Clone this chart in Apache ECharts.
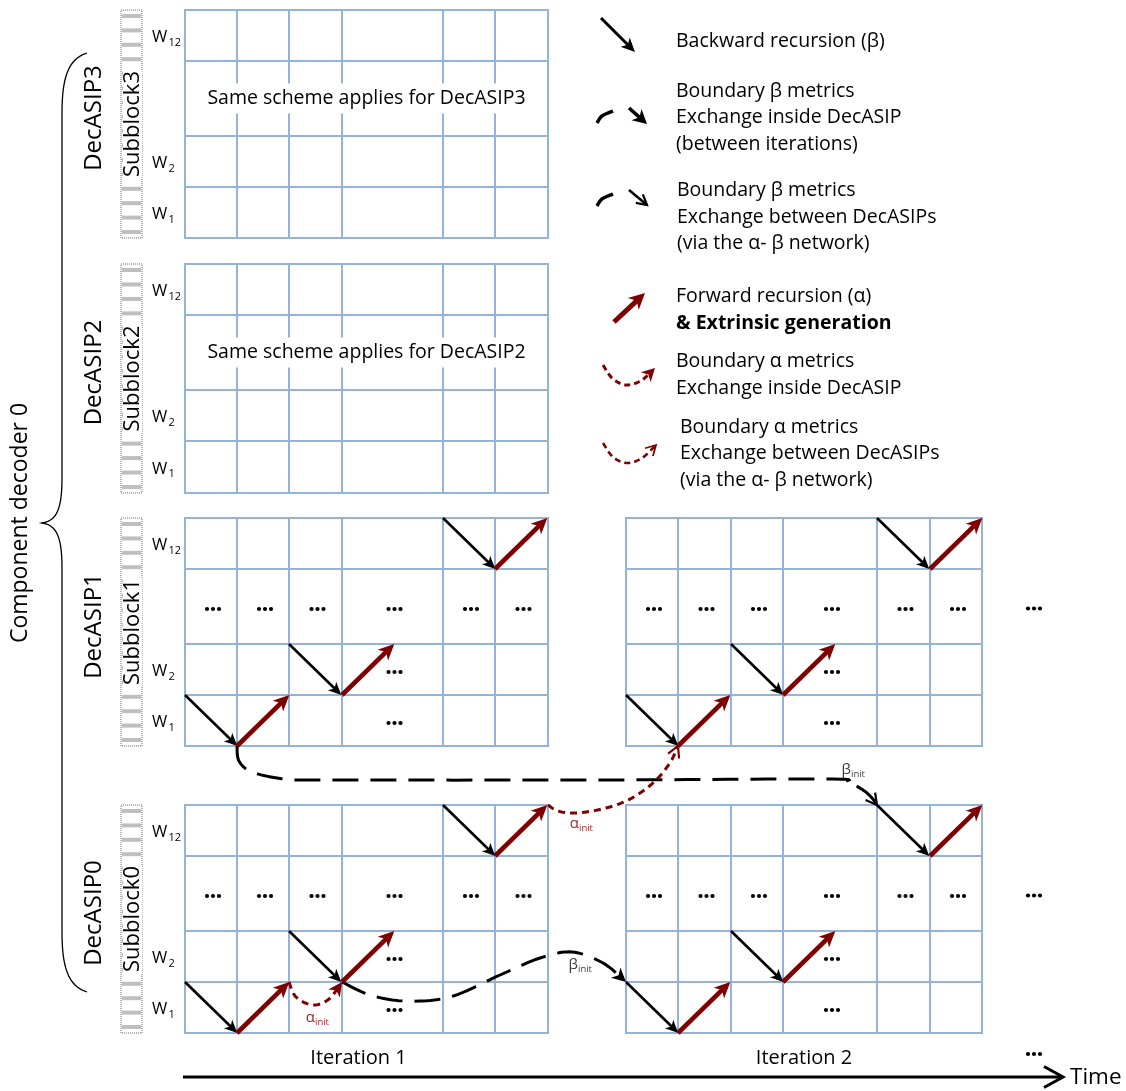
<!DOCTYPE html>
<html><head><meta charset="utf-8">
<script src="https://cdn.jsdelivr.net/npm/echarts@6/dist/echarts.min.js"></script>
<style>html,body{margin:0;padding:0;background:#fff}#chart{width:1126px;height:1091px}</style>
</head><body><div id="chart"></div>
<script>
// ================= DATA =================
const decasipNames = ['DecASIP3', 'DecASIP2', 'DecASIP1', 'DecASIP0'];
const subblockNames = ['Subblock3', 'Subblock2', 'Subblock1', 'Subblock0'];
const windowLabels = [['W', '12'], null, ['W', '2'], ['W', '1']];
const iterationNames = ['Iteration 1', 'Iteration 2'];
const schemeNotes = ['Same scheme applies for DecASIP3', 'Same scheme applies for DecASIP2'];
const decoderName = 'Component decoder 0';
const timeName = 'Time';
// panels: [block index, iteration index]
const panels = [[0, 0], [1, 0], [2, 0], [3, 0], [2, 1], [3, 1]];
const detailedPanels = [[2, 0], [3, 0], [2, 1], [3, 1]];
// recursion steps: start node [column edge, row edge]; each step spans one window cell
const backwardSteps = [[0, 3], [2, 2], [4, 0]];   // one cell right, one row down
const forwardSteps = [[1, 4], [3, 3], [5, 1]];    // one cell right, one row up
// cells holding an ellipsis: [column, row]
const ellipsisCells = [[0, 1], [1, 1], [2, 1], [3, 1], [4, 1], [5, 1], [3, 2], [3, 3]];
// continuation ellipses beyond iteration 2: (block, row)
const continuationRows = [[2, 1], [3, 1]];
// boundary metric exchanges: from/to = [block, iteration, column edge, row edge]
const exchangeNames = ['alpha-inside', 'beta-inside', 'beta-between', 'alpha-between'];
const exchangeFrom = [[3, 0, 2, 3], [3, 0, 3, 3], [2, 0, 1, 4], [3, 0, 6, 0]];
const exchangeTo = [[3, 0, 3, 3], [3, 1, 0, 3], [3, 1, 4, 0], [2, 1, 1, 4]];
const exchangeSymbols = ['α', 'β', 'β', 'α'];
const exchangeSubscripts = ['init', 'init', 'init', 'init'];
const legendKinds = ['backward', 'beta-inside', 'beta-between', 'forward', 'alpha-inside', 'alpha-between'];
const legendTexts = [
  ['Backward recursion (β)'],
  ['Boundary β metrics', 'Exchange inside DecASIP', '(between iterations)'],
  ['Boundary β metrics', 'Exchange between DecASIPs', '(via the α- β network)'],
  ['Forward recursion (α)', '& Extrinsic generation'],
  ['Boundary α metrics', 'Exchange inside DecASIP'],
  ['Boundary α metrics', 'Exchange between DecASIPs', '(via the α- β network)']
];
const legendBold = [[false], [false, false, false], [false, false, false], [false, true], [false, false], [false, false, false]];

// ================= LAYOUT / STYLE =================
const LAYOUT = {
  W: 1126, H: 1091,
  colEdges: [[185, 237, 289, 342, 443, 495, 548], [626, 678, 731, 783, 877, 930, 982]],
  rowEdges: [[10, 61, 136, 187, 238], [264, 315, 390, 441, 493], [518, 569, 644, 695, 746], [805, 856, 931, 982, 1033]],
  cellW: 52.3,
  barX: [121, 142],
  decasipX: 94,
  wLabelX: 152,
  decoderX: 20,
  brace: { tipX: 42, armX: 62, endX: 87, top: 53, mid: 523, bottom: 992 },
  moreX: 1034,
  timeY: 1077, timeX0: 183, timeX1: 1063, timeDotsY: 1054,
  iterLabelY: 1058,
  legendTextX: [676, 676, 677, 676, 676, 680],
  legendTextY: [[41], [91, 117, 144], [190, 217, 243], [296, 323], [361, 388], [427, 453, 480]],
  routes: {
    'alpha-inside': [[296, 997], [313, 1005], [329, 999]],
    'beta-inside': [[370, 995], [405, 1001], [450, 997], [500, 975], [540, 958], [572, 952], [603, 963]],
    'beta-between': [[239, 761], [252, 772], [285, 779], [330, 780], [600, 780], [825, 779], [847, 782], [863, 790], [872, 798]],
    'alpha-between': [[558, 811], [576, 813], [602, 809], [624, 802], [643, 791], [659, 777], [671, 761]]
  },
  labelPos: { 'alpha-inside': [314, 1019], 'beta-inside': [577, 966], 'beta-between': [850, 771], 'alpha-between': [578, 825] },
  legendIcons: {
    'backward': { arrow: [[601, 18], [635, 52]] },
    'beta-inside': { arc: [[597, 123], [602, 116], [613, 111]], arrow: [[629, 108], [647, 124]] },
    'beta-between': { arc: [[597, 206], [602, 199], [613, 194]], arrow: [[629, 190], [647, 205]] },
    'forward': { arrow: [[614, 322], [645, 293]] },
    'alpha-inside': { curve: [[603, 365], [613, 379], [627, 385], [642, 380], [655, 368]] },
    'alpha-between': { curve: [[603, 443], [613, 457], [627, 463], [642, 458], [656, 445]] }
  }
};
const STYLE = {
  grid: '#95B3D7', gridW: 2,
  red: '#7F0000', redLabel: '#A3282B', black: '#000', betaLabel: '#3A3A3A',
  font: '"Open Sans", Lato, sans-serif'
};

// ================= HELPERS =================
function P(api, x, y) { return api.coord([x, y]); }
function seg(a, b, stroke, w, dash) {
  return { type: 'line', shape: { x1: a[0], y1: a[1], x2: b[0], y2: b[1] }, style: { stroke: stroke, lineWidth: w, lineDash: dash || null, lineCap: 'butt' } };
}
function txt(x, y, text, o) {
  o = o || {};
  const st = {
    text: text, fill: o.fill || '#000', fontSize: o.fontSize || 18, fontFamily: o.fontFamily || STYLE.font,
    fontWeight: o.fontWeight || 'normal', align: o.align || 'left', verticalAlign: o.verticalAlign || 'middle',
    textAlign: o.align || 'left', textVerticalAlign: o.verticalAlign || 'middle',
    backgroundColor: o.backgroundColor || null, padding: o.padding || 0
  };
  if (o.lineHeight) st.lineHeight = o.lineHeight;
  return { type: 'text', x: x, y: y, rotation: o.rotation || 0, style: st };
}
function head(tip, from, color, len, half, filled, w) {
  const dx = tip[0] - from[0], dy = tip[1] - from[1], L = Math.hypot(dx, dy) || 1;
  const ux = dx / L, uy = dy / L, nx = -uy, ny = ux;
  const bl = [tip[0] - ux * len + nx * half, tip[1] - uy * len + ny * half];
  const br = [tip[0] - ux * len - nx * half, tip[1] - uy * len - ny * half];
  if (filled) {
    const notch = [tip[0] - ux * len * 0.72, tip[1] - uy * len * 0.72];
    return { type: 'polygon', shape: { points: [tip, bl, notch, br] }, style: { fill: color } };
  }
  return { type: 'polyline', shape: { points: [bl, tip, br] }, style: { stroke: color, lineWidth: w, fill: null, lineJoin: 'miter' } };
}
function arrow(a, b, color, w, len, half) {
  const dx = b[0] - a[0], dy = b[1] - a[1], L = Math.hypot(dx, dy);
  const e = [b[0] - dx / L * len * 0.6, b[1] - dy / L * len * 0.6];
  return [seg(a, e, color, w), head(b, a, color, len, half, true)];
}
function catmull(pts) {
  const out = [];
  for (let i = 0; i < pts.length - 1; i++) {
    const p0 = pts[i - 1] || pts[i], p1 = pts[i], p2 = pts[i + 1], p3 = pts[i + 2] || pts[i + 1];
    const n = 12;
    for (let k = 0; k < n; k++) {
      const t = k / n, t2 = t * t, t3 = t2 * t;
      const f = (a, b, c, d) => 0.5 * ((2 * b) + (-a + c) * t + (2 * a - 5 * b + 4 * c - d) * t2 + (-a + 3 * b - 3 * c + d) * t3);
      out.push([f(p0[0], p1[0], p2[0], p3[0]), f(p0[1], p1[1], p2[1], p3[1])]);
    }
  }
  out.push(pts[pts.length - 1]);
  return out;
}
function curveArrow(pts, color, w, dash, headLen, headHalf, filled) {
  const s = catmull(pts);
  const tip = s[s.length - 1];
  let j = s.length - 2;
  while (j > 0 && Math.hypot(tip[0] - s[j][0], tip[1] - s[j][1]) < headLen) j--;
  const from = s[j];
  let body = s;
  if (filled) {
    const dx = tip[0] - from[0], dy = tip[1] - from[1], L = Math.hypot(dx, dy);
    const cut = [tip[0] - dx / L * headLen * 0.6, tip[1] - dy / L * headLen * 0.6];
    body = s.slice(0, j + 1).concat([cut]);
  }
  return [
    { type: 'polyline', shape: { points: body }, style: { stroke: color, lineWidth: w, lineDash: dash || null, fill: null, lineCap: 'butt' } },
    head(tip, from, color, headLen, headHalf, filled, Math.max(1.5, w - 0.8))
  ];
}
function nodePx(api, n) {
  return P(api, LAYOUT.colEdges[n[1]][n[2]], LAYOUT.rowEdges[n[0]][n[3]]);
}
function dots(cx, cy) {
  return [-6, 0, 6].map(d => ({ type: 'circle', shape: { cx: cx + d, cy: cy, r: 2.1 }, style: { fill: '#000' } }));
}

// ================= RENDERERS =================
function renderPanel(params, api) {
  const pn = panels[params.dataIndex], b = pn[0], it = pn[1];
  const xs = LAYOUT.colEdges[it], ys = LAYOUT.rowEdges[b];
  const ch = [];
  xs.forEach(x => ch.push(seg(P(api, x, ys[0] - 1), P(api, x, ys[ys.length - 1] + 1), STYLE.grid, STYLE.gridW)));
  ys.forEach(y => ch.push(seg(P(api, xs[0] - 1, y), P(api, xs[xs.length - 1] + 1, y), STYLE.grid, STYLE.gridW)));
  if (it === 0 && b < schemeNotes.length) {
    const c = P(api, (xs[0] + xs[xs.length - 1]) / 2, (ys[1] + ys[2]) / 2);
    ch.push(txt(c[0], c[1], schemeNotes[b], { fontSize: 19.5, align: 'center', backgroundColor: '#fff', padding: [5, 4] }));
  }
  return { type: 'group', children: ch };
}
function renderBlock(params, api) {
  const b = params.dataIndex, ys = LAYOUT.rowEdges[b];
  const tl = P(api, LAYOUT.barX[0], ys[0]), br = P(api, LAYOUT.barX[1], ys[ys.length - 1]);
  const ch = [];
  const w = br[0] - tl[0], h = br[1] - tl[1];
  ch.push({ type: 'rect', shape: { x: tl[0], y: tl[1], width: w, height: h }, style: { fill: '#fff', stroke: '#6b6b6b', lineWidth: 1, lineDash: [1, 1] } });
  const n = Math.round(h / 14.4);
  for (let k = 0; k < n; k++) {
    const yy = tl[1] + 6 + k * (h - 12) / (n - 1);
    ch.push({ type: 'rect', shape: { x: tl[0] + 1, y: yy - 2, width: w - 2, height: 4 }, style: { fill: '#BFBFBF' } });
  }
  const midY = (tl[1] + br[1]) / 2;
  ch.push(txt((tl[0] + br[0]) / 2 + 1, midY, subblockNames[b], { fontSize: 22, align: 'center', rotation: Math.PI / 2, backgroundColor: '#fff', padding: [0, 1], lineHeight: 19 }));
  const dx = P(api, LAYOUT.decasipX, 0)[0];
  ch.push(txt(dx, midY - 6, decasipNames[b], { fontSize: 24, align: 'center', rotation: Math.PI / 2 }));
  const wx = P(api, LAYOUT.wLabelX, 0)[0];
  windowLabels.forEach((lab, r) => {
    if (!lab) return;
    const yc = P(api, 0, (ys[r] + ys[r + 1]) / 2)[1] + 2;
    ch.push(txt(wx, yc, lab[0], { fontSize: 16.5 }));
    ch.push(txt(wx + 16.5, yc + 5, lab[1], { fontSize: 11 }));
  });
  return { type: 'group', children: ch };
}
const recursionItems = [];
detailedPanels.forEach(p => {
  backwardSteps.forEach(s => recursionItems.push({ b: p[0], it: p[1], c: s[0], r: s[1], dir: 1 }));
  forwardSteps.forEach(s => recursionItems.push({ b: p[0], it: p[1], c: s[0], r: s[1], dir: -1 }));
});
function renderRecursion(params, api) {
  const d = recursionItems[params.dataIndex];
  const sx = LAYOUT.colEdges[d.it][d.c], sy = LAYOUT.rowEdges[d.b][d.r];
  const ex = sx + LAYOUT.cellW, ey = LAYOUT.rowEdges[d.b][d.r + d.dir];
  const a = P(api, sx, sy), b = P(api, ex, ey);
  const kids = d.dir === 1 ? arrow(a, b, STYLE.black, 2.6, 13, 6) : arrow(a, b, STYLE.red, 4.6, 16, 7.5);
  return { type: 'group', children: kids };
}
const ellipsisItems = [];
detailedPanels.forEach(p => ellipsisCells.forEach(c => ellipsisItems.push({ b: p[0], it: p[1], c: c[0], r: c[1] })));
function renderEllipsis(params, api) {
  const d = ellipsisItems[params.dataIndex];
  const xs = LAYOUT.colEdges[d.it], ys = LAYOUT.rowEdges[d.b];
  const c = P(api, (xs[d.c] + xs[d.c + 1]) / 2 + 2, (ys[d.r] + ys[d.r + 1]) / 2 + 2.5);
  return { type: 'group', children: dots(c[0], c[1]) };
}
function renderContinuation(params, api) {
  const ch = [];
  continuationRows.forEach(cr => {
    const ys = LAYOUT.rowEdges[cr[0]];
    const c = P(api, LAYOUT.moreX, (ys[cr[1]] + ys[cr[1] + 1]) / 2 + 2);
    ch.push(...dots(c[0], c[1]));
  });
  const t = P(api, LAYOUT.moreX, LAYOUT.timeDotsY);
  ch.push(...dots(t[0], t[1]));
  return { type: 'group', children: ch };
}
function renderExchange(params, api) {
  const i = params.dataIndex, name = exchangeNames[i];
  const pts = [nodePx(api, exchangeFrom[i])].concat(LAYOUT.routes[name].map(q => P(api, q[0], q[1]))).concat([nodePx(api, exchangeTo[i])]);
  const isAlpha = exchangeSymbols[i] === 'α';
  const inside = name.indexOf('inside') >= 0;
  const color = isAlpha ? STYLE.red : STYLE.black;
  const dash = isAlpha ? [7, 5] : [26, 12];
  const kids = curveArrow(pts, color, 3, dash, inside ? 14 : 11, inside ? 7 : 6, inside);
  const lp = P(api, LAYOUT.labelPos[name][0], LAYOUT.labelPos[name][1]);
  const lc = isAlpha ? STYLE.redLabel : STYLE.betaLabel;
  kids.push(txt(lp[0] + 1, lp[1] - 1, exchangeSymbols[i], { fontSize: 15, align: 'right', fill: lc }));
  kids.push(txt(lp[0] + 1, lp[1] + 3, exchangeSubscripts[i], { fontSize: 9.5, align: 'left', fill: lc }));
  return { type: 'group', children: kids };
}
function renderLegend(params, api) {
  const i = params.dataIndex, kind = legendKinds[i], ic = LAYOUT.legendIcons[kind];
  const kids = [];
  const pp = arr => arr.map(q => P(api, q[0], q[1]));
  if (kind === 'backward') kids.push(...arrow(...pp(ic.arrow), STYLE.black, 3, 14, 6.5));
  if (kind === 'forward') kids.push(...arrow(...pp(ic.arrow), STYLE.red, 5, 16, 8));
  if (kind === 'beta-inside' || kind === 'beta-between') {
    kids.push({ type: 'polyline', shape: { points: catmull(pp(ic.arc)) }, style: { stroke: '#000', lineWidth: 3.5, fill: null } });
    const ar = pp(ic.arrow);
    if (kind === 'beta-inside') kids.push(...arrow(ar[0], ar[1], '#000', 3.5, 14, 7.5));
    else { kids.push(seg(ar[0], ar[1], '#000', 2.5)); kids.push(head(ar[1], ar[0], '#000', 10, 5.5, false, 2.2)); }
  }
  if (kind === 'alpha-inside') kids.push(...curveArrow(pp(ic.curve), STYLE.red, 3, [6, 4], 13, 7, true));
  if (kind === 'alpha-between') kids.push(...curveArrow(pp(ic.curve), STYLE.red, 2.6, [6, 4], 10, 5.5, false));
  legendTexts[i].forEach((t, k) => {
    const p = P(api, LAYOUT.legendTextX[i], LAYOUT.legendTextY[i][k]);
    kids.push(txt(p[0], p[1], t, { fontSize: 19.5, fontWeight: legendBold[i][k] ? 'bold' : 'normal' }));
  });
  return { type: 'group', children: kids };
}
function renderFrame(params, api) {
  const kids = [];
  const B = LAYOUT.brace;
  const pts = pp => pp.map(q => P(api, q[0], q[1]));
  const brPts = [];
  const cub = (p0, p1, p2, p3) => { for (let k = 0; k <= 16; k++) { const t = k / 16, u = 1 - t; brPts.push([u * u * u * p0[0] + 3 * u * u * t * p1[0] + 3 * u * t * t * p2[0] + t * t * t * p3[0], u * u * u * p0[1] + 3 * u * u * t * p1[1] + 3 * u * t * t * p2[1] + t * t * t * p3[1]]); } };
  cub([B.endX, B.top], [B.armX + 6, B.top + 6], [B.armX, B.top + 25], [B.armX, B.top + 60]);
  cub([B.armX, B.mid - 45], [B.armX, B.mid - 15], [B.armX - 5, B.mid - 2], [B.tipX, B.mid]);
  cub([B.tipX, B.mid], [B.armX - 5, B.mid + 2], [B.armX, B.mid + 15], [B.armX, B.mid + 45]);
  cub([B.armX, B.bottom - 60], [B.armX, B.bottom - 25], [B.armX + 6, B.bottom - 6], [B.endX, B.bottom]);
  kids.push({ type: 'polyline', shape: { points: pts(brPts) }, style: { stroke: '#000', lineWidth: 1.3, fill: null } });
  const dc = P(api, LAYOUT.decoderX, B.mid);
  kids.push(txt(dc[0], dc[1], decoderName, { fontSize: 23, align: 'center', rotation: Math.PI / 2 }));
  const t0 = P(api, LAYOUT.timeX0, LAYOUT.timeY), t1 = P(api, LAYOUT.timeX1, LAYOUT.timeY);
  kids.push(seg(t0, [t1[0] - 2, t1[1]], '#000', 3));
  kids.push(head(t1, t0, '#000', 19, 10.5, false, 3));
  kids.push(txt(t1[0] + 7, t1[1] + 1, timeName, { fontSize: 22.5 }));
  iterationNames.forEach((n, it) => {
    const xs = LAYOUT.colEdges[it];
    const p = P(api, (xs[0] + xs[xs.length - 1]) / 2 - (it === 0 ? 8 : 0), LAYOUT.iterLabelY);
    kids.push(txt(p[0], p[1], n, { fontSize: 20, align: 'center' }));
  });
  return { type: 'group', children: kids };
}

const chart = echarts.init(document.getElementById('chart'), null, { renderer: 'canvas' });
const common = { type: 'custom', coordinateSystem: 'cartesian2d', clip: false, silent: true, animation: false };
const idx = arr => arr.map((_, i) => [i, 0]);
chart.setOption({
  animation: false,
  grid: { left: 0, right: 0, top: 0, bottom: 0 },
  xAxis: { type: 'value', min: 0, max: LAYOUT.W, show: false },
  yAxis: { type: 'value', min: 0, max: LAYOUT.H, inverse: true, show: false },
  series: [
    Object.assign({ name: 'panels', renderItem: renderPanel, data: idx(panels), z: 1 }, common),
    Object.assign({ name: 'blocks', renderItem: renderBlock, data: idx(decasipNames), z: 2 }, common),
    Object.assign({ name: 'ellipsis', renderItem: renderEllipsis, data: idx(ellipsisItems), z: 3 }, common),
    Object.assign({ name: 'continuation', renderItem: renderContinuation, data: [[0, 0]], z: 3 }, common),
    Object.assign({ name: 'exchanges', renderItem: renderExchange, data: idx(exchangeNames), z: 4 }, common),
    Object.assign({ name: 'recursion', renderItem: renderRecursion, data: idx(recursionItems), z: 5 }, common),
    Object.assign({ name: 'legend', renderItem: renderLegend, data: idx(legendKinds), z: 5 }, common),
    Object.assign({ name: 'frame', renderItem: renderFrame, data: [[0, 0]], z: 5 }, common)
  ]
});
</script></body></html>
